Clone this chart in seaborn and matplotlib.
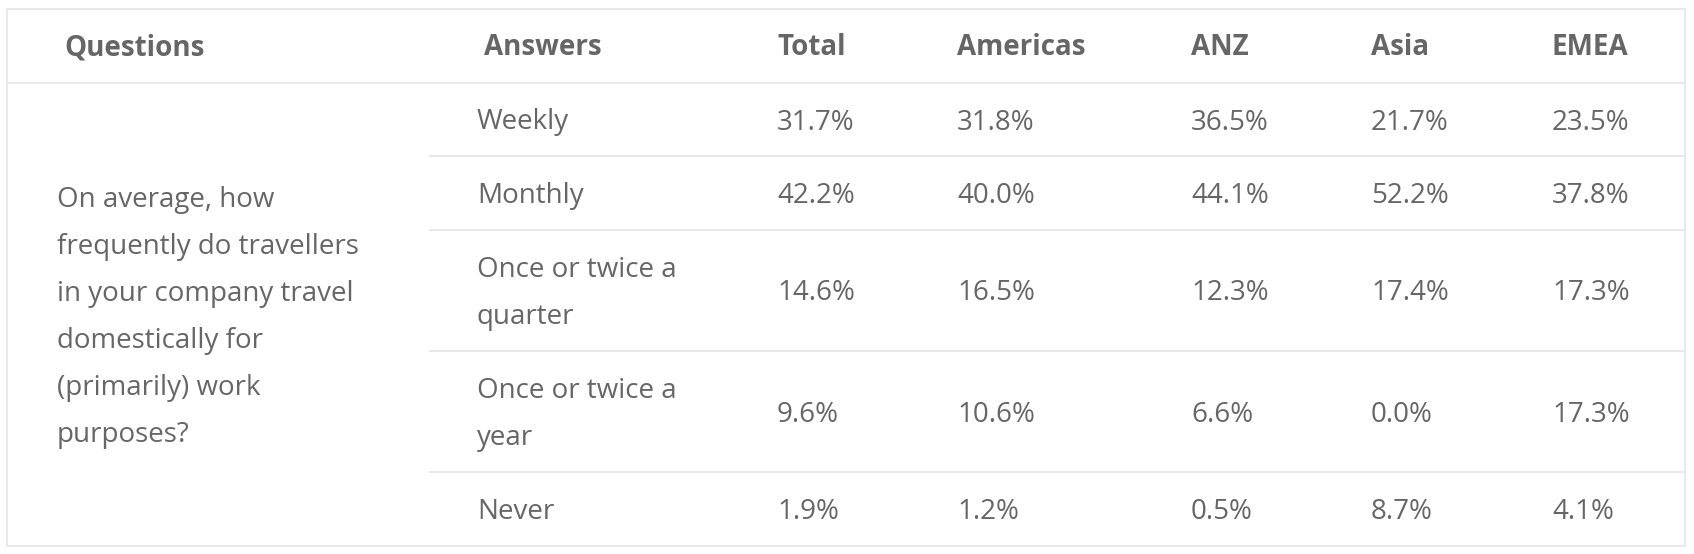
import matplotlib
matplotlib.use("Agg")
import matplotlib.pyplot as plt
import seaborn as sns

# table content
question_lines = ["On average, how", "frequently do travellers", "in your company travel",
                  "domestically for", "(primarily) work", "purposes?"]
answers = ["Weekly", "Monthly", "Once or twice a\nquarter", "Once or twice a\nyear", "Never"]
headers = ["Questions", "Answers", "Total", "Americas", "ANZ", "Asia", "EMEA"]
total = [31.7, 42.2, 14.6, 9.6, 1.9]
americas = [31.8, 40.0, 16.5, 10.6, 1.2]
anz = [36.5, 44.1, 12.3, 6.6, 0.5]
asia = [21.7, 52.2, 17.4, 0.0, 8.7]
emea = [23.5, 37.8, 17.3, 17.3, 4.1]

sns.set_theme(style="white")
plt.rcParams['font.family'] = ['Open Sans', 'DejaVu Sans']

W, H = 1694, 554
fig = plt.figure(figsize=(W / 100, H / 100), dpi=100)
ax = fig.add_axes([0, 0, 1, 1])
ax.set_xlim(0, W)
ax.set_ylim(H, 0)
ax.axis("off")

line_col = "#e9e9e9"
text_col = "#666666"
fs = 20
lw = 1.5

left, right = 7, 1685
rows = [9, 83, 156, 230, 351, 472, 546]
head_x = [64, 484, 777, 957, 1191, 1371, 1552]
body_x = [57, 477, 777, 957, 1191, 1371, 1552]
base_off = 10
line_gap = 47

# outer frame and rules
ax.plot([left, right, right, left, left], [rows[0], rows[0], rows[-1], rows[-1], rows[0]],
        color=line_col, lw=lw, solid_joinstyle="miter")
ax.hlines(rows[1], left, right, color=line_col, lw=lw)
ax.hlines(rows[2:-1], 429, right, color=line_col, lw=lw)

# header
hy = (rows[0] + rows[1]) / 2 + base_off - 1
for x, h in zip(head_x, headers):
    ax.text(x, hy, h, fontsize=fs, fontweight="bold", color=text_col, va="baseline")

# question cell, centred over the body
qc = (rows[1] + rows[-1]) / 2
q0 = qc - line_gap * (len(question_lines) - 1) / 2
for i, ln in enumerate(question_lines):
    ax.text(body_x[0], q0 + i * line_gap + base_off, ln, fontsize=fs, color=text_col, va="baseline")

cols = [total, americas, anz, asia, emea]
for r, ans in enumerate(answers):
    yc = (rows[r + 1] + rows[r + 2]) / 2
    parts = ans.split("\n")
    y0 = yc - line_gap * (len(parts) - 1) / 2
    for i, p in enumerate(parts):
        ax.text(body_x[1], y0 + i * line_gap + base_off, p, fontsize=fs, color=text_col, va="baseline")
    for c, vals in enumerate(cols):
        ax.text(body_x[c + 2], yc + base_off, f"{vals[r]:.1f}%", fontsize=fs,
                color=text_col, va="baseline")

fig.savefig("out.png", dpi=100, facecolor="white")
